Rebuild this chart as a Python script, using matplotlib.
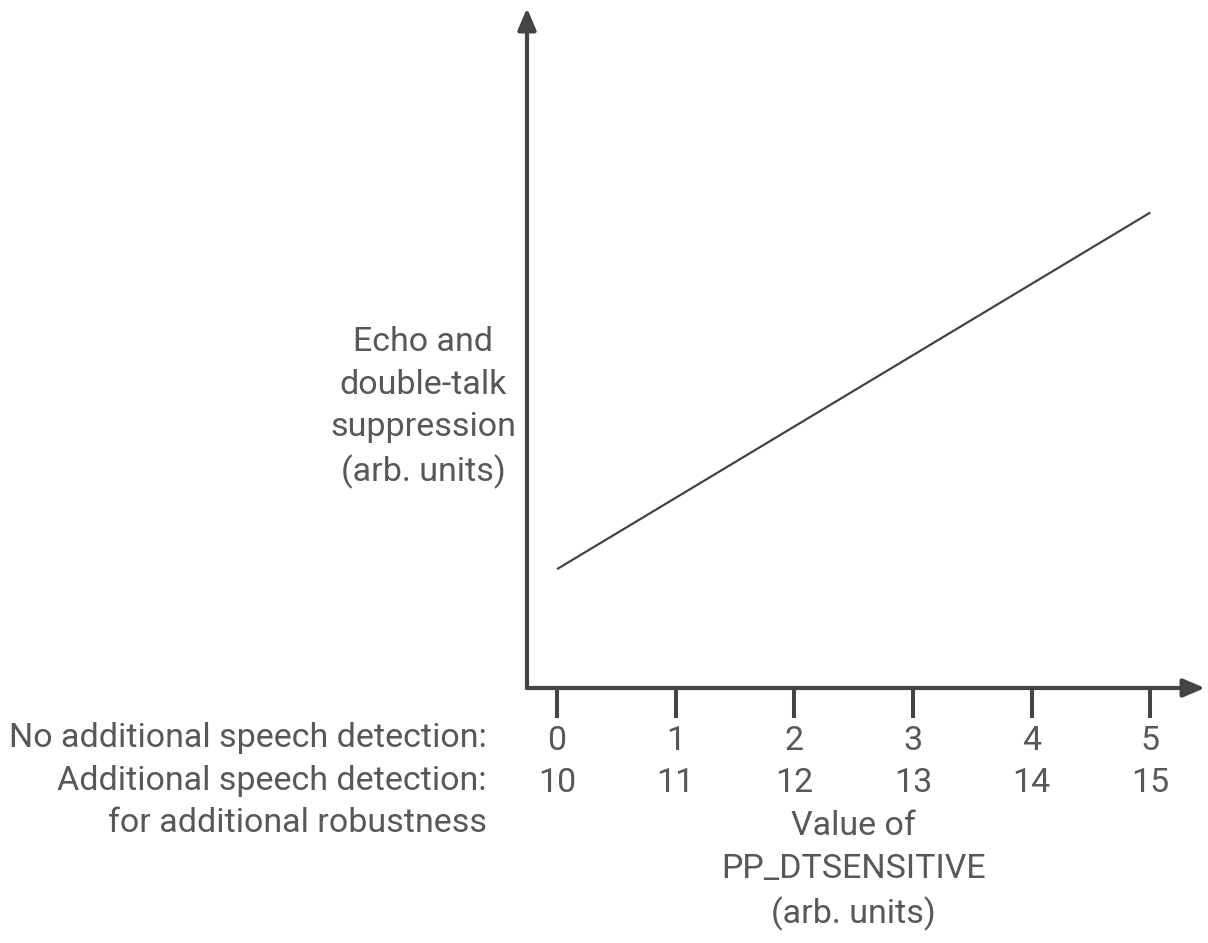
import matplotlib
matplotlib.use('Agg')
import matplotlib.pyplot as plt

# data
x_vals = [0, 5]
y_vals = [1, 4]
ticks = [0, 1, 2, 3, 4, 5]
row_plain = ['0', '1', '2', '3', '4', '5']
row_extra = ['10', '11', '12', '13', '14', '15']

ink = '#444444'
txt = '#585858'
plt.rcParams['font.family'] = ['Roboto', 'DejaVu Sans']
plt.rcParams['font.weight'] = 'normal'
fs = 24.5
ls = 1.42

W, H = 1208, 943
fig = plt.figure(figsize=(W / 100, H / 100), dpi=100)
# axes box in pixels: left spine at 527, bottom at 688, right tip 1205, top tip 8
ax = fig.add_axes([527 / W, (H - 688) / H, (1205 - 527) / W, (688 - 8) / H])
ax.set_xlim(-0.253, 5.46)
ax.set_ylim(0, 5.72)

ax.plot(x_vals, y_vals, color=ink, lw=1.6, solid_capstyle='butt')

for s in ('top', 'right', 'left', 'bottom'):
    ax.spines[s].set_visible(False)

# axes with arrow heads
arr = dict(arrowstyle='-|>,head_length=1.3,head_width=0.55', lw=3, color=ink,
           shrinkA=0, shrinkB=0)
ax.annotate('', xy=(1, 0), xytext=(0, 0), xycoords='axes fraction', arrowprops=arr)
ax.annotate('', xy=(0, 1), xytext=(0, 0), xycoords='axes fraction', arrowprops=arr)

ax.set_xticks(ticks)
ax.set_xticklabels([a + '\n' + b for a, b in zip(row_plain, row_extra)],
                   fontsize=fs, color=txt, linespacing=ls)
ax.tick_params(axis='x', direction='out', length=21.5, width=2.9, color=ink, pad=5)
ax.set_yticks([])

ax.text(-0.59, -0.29, 'No additional speech detection:\nAdditional speech detection:\nfor additional robustness',
        ha='right', va='top', multialignment='right',
        fontsize=fs, color=txt, linespacing=ls)

ax.text(2.5, -1.03, 'Value of\nPP_DTSENSITIVE\n(arb. units)', ha='center', va='top',
        multialignment='center', fontsize=fs, color=txt, linespacing=ls)

ax.text(-1.13, 2.36, 'Echo and\ndouble-talk\nsuppression\n(arb. units)', ha='center', va='center',
        multialignment='center', fontsize=fs, color=txt, linespacing=ls)

fig.savefig('out.png', dpi=100)
